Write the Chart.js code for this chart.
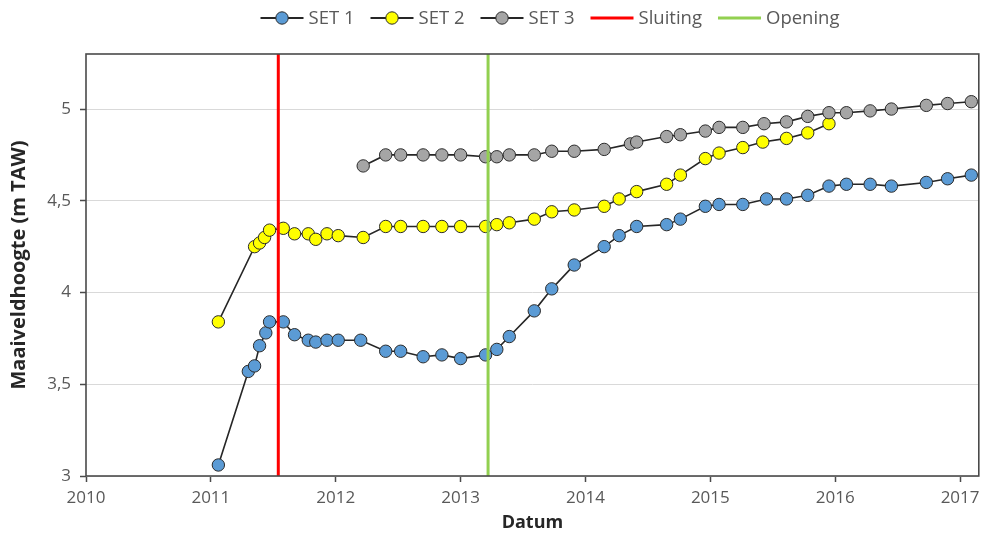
<!DOCTYPE html>
<html>
<head>
<meta charset="utf-8">
<title>Maaiveldhoogte</title>
<script src="https://cdn.jsdelivr.net/npm/chart.js@4.4.1/dist/chart.umd.min.js"></script>
<style>
  html, body { margin: 0; padding: 0; background: #ffffff; }
  #wrap { width: 986px; height: 535px; position: relative; }
</style>
</head>
<body>
<div id="wrap"><canvas id="chart" width="986" height="535"></canvas></div>
<script>
// Measurement dates (decimal years) and ground level heights (m TAW)
const set1Dates = [2011.06, 2011.30, 2011.35, 2011.39, 2011.44, 2011.47, 2011.58, 2011.67, 2011.78, 2011.84,
  2011.93, 2012.02, 2012.20, 2012.40, 2012.52, 2012.70, 2012.85, 2013.00, 2013.20, 2013.29,
  2013.39, 2013.59, 2013.73, 2013.91, 2014.15, 2014.27, 2014.41, 2014.65, 2014.76, 2014.96,
  2015.07, 2015.26, 2015.45, 2015.61, 2015.78, 2015.95, 2016.09, 2016.28, 2016.45, 2016.73,
  2016.90, 2017.09];
const set1Values = [3.06, 3.57, 3.60, 3.71, 3.78, 3.84, 3.84, 3.77, 3.74, 3.73,
  3.74, 3.74, 3.74, 3.68, 3.68, 3.65, 3.66, 3.64, 3.66, 3.69,
  3.76, 3.90, 4.02, 4.15, 4.25, 4.31, 4.36, 4.37, 4.40, 4.47,
  4.48, 4.48, 4.51, 4.51, 4.53, 4.58, 4.59, 4.59, 4.58, 4.60,
  4.62, 4.64];

const set2Dates = [2011.06, 2011.35, 2011.39, 2011.43, 2011.47, 2011.58, 2011.67, 2011.78, 2011.84, 2011.93,
  2012.02, 2012.22, 2012.40, 2012.52, 2012.70, 2012.85, 2013.00, 2013.20, 2013.29, 2013.39,
  2013.59, 2013.73, 2013.91, 2014.15, 2014.27, 2014.41, 2014.65, 2014.76, 2014.96, 2015.07,
  2015.26, 2015.42, 2015.61, 2015.78, 2015.95];
const set2Values = [3.84, 4.25, 4.27, 4.30, 4.34, 4.35, 4.32, 4.32, 4.29, 4.32,
  4.31, 4.30, 4.36, 4.36, 4.36, 4.36, 4.36, 4.36, 4.37, 4.38,
  4.40, 4.44, 4.45, 4.47, 4.51, 4.55, 4.59, 4.64, 4.73, 4.76,
  4.79, 4.82, 4.84, 4.87, 4.92];

const set3Dates = [2012.22, 2012.40, 2012.52, 2012.70, 2012.85, 2013.00, 2013.20, 2013.29, 2013.39, 2013.59,
  2013.73, 2013.91, 2014.15, 2014.36, 2014.41, 2014.65, 2014.76, 2014.96, 2015.07, 2015.26,
  2015.43, 2015.61, 2015.78, 2015.95, 2016.09, 2016.28, 2016.45, 2016.73, 2016.90, 2017.09];
const set3Values = [4.69, 4.75, 4.75, 4.75, 4.75, 4.75, 4.74, 4.74, 4.75, 4.75,
  4.77, 4.77, 4.78, 4.81, 4.82, 4.85, 4.86, 4.88, 4.90, 4.90,
  4.92, 4.93, 4.96, 4.98, 4.98, 4.99, 5.00, 5.02, 5.03, 5.04];

// Closing and re-opening moments (decimal years)
const sluitingDate = 2011.54;
const openingDate = 2013.22;

// Axis ranges and tick labels
const xMin = 2010, xMax = 2017.15;
const yMin = 3, yMax = 5.3;
const xTickLabels = ['2010', '2011', '2012', '2013', '2014', '2015', '2016', '2017'];
const yTickLabels = ['3', '3,5', '4', '4,5', '5'];

const seriesNames = ['SET 1', 'SET 2', 'SET 3', 'Sluiting', 'Opening'];

const FONT = "'Open Sans', 'Liberation Sans', sans-serif";
const TEXT_GREY = '#595959';
const MARKER_R = 6.2;

const toPoints = (xs, ys) => xs.map((x, i) => ({ x: x, y: ys[i] }));
const verticalAt = (x) => [{ x: x, y: yMin }, { x: x, y: yMax }];

function markerSeries(label, xs, ys, fill, order) {
  return {
    label: label,
    data: toPoints(xs, ys),
    borderColor: '#262626',
    borderWidth: 1.6,
    pointRadius: MARKER_R,
    pointHoverRadius: MARKER_R,
    pointBackgroundColor: fill,
    pointBorderColor: '#2b2b2b',
    pointBorderWidth: 1,
    showLine: true,
    tension: 0,
    order: order,
    legendKind: 'marker'
  };
}

function verticalSeries(label, x, color) {
  return {
    label: label,
    data: verticalAt(x),
    borderColor: color,
    borderWidth: 3,
    pointRadius: 0,
    pointHoverRadius: 0,
    showLine: true,
    order: 0,
    legendKind: 'line'
  };
}

const datasets = [
  markerSeries(seriesNames[0], set1Dates, set1Values, '#5B9BD5', 3),
  markerSeries(seriesNames[1], set2Dates, set2Values, '#FFFF00', 2),
  markerSeries(seriesNames[2], set3Dates, set3Values, '#A5A5A5', 1),
  verticalSeries(seriesNames[3], sluitingDate, '#FF0000'),
  verticalSeries(seriesNames[4], openingDate, '#92D050')
];

// Legend row across the top, line + marker swatches like a spreadsheet chart
const topLegend = {
  id: 'topLegend',
  afterDraw(chart) {
    const ctx = chart.ctx;
    const lineLen = 43, gapText = 5, gapItem = 16, cy = 18;
    ctx.save();
    ctx.font = '18.5px ' + FONT;
    ctx.textBaseline = 'middle';
    const items = chart.data.datasets.map(ds => ({ ds: ds, w: ctx.measureText(ds.label).width }));
    const total = items.reduce((s, it) => s + lineLen + gapText + it.w, 0) + gapItem * (items.length - 1);
    let x = 550 - total / 2;
    items.forEach(it => {
      const ds = it.ds;
      ctx.beginPath();
      ctx.moveTo(x, cy);
      ctx.lineTo(x + lineLen, cy);
      ctx.strokeStyle = ds.borderColor;
      ctx.lineWidth = ds.legendKind === 'line' ? 3 : 2;
      ctx.stroke();
      if (ds.legendKind === 'marker') {
        ctx.beginPath();
        ctx.arc(x + lineLen / 2, cy, MARKER_R, 0, Math.PI * 2);
        ctx.fillStyle = ds.pointBackgroundColor;
        ctx.fill();
        ctx.lineWidth = 1;
        ctx.strokeStyle = ds.pointBorderColor;
        ctx.stroke();
      }
      ctx.fillStyle = TEXT_GREY;
      ctx.textAlign = 'left';
      ctx.fillText(ds.label, x + lineLen + gapText, cy + 1);
      x += lineLen + gapText + it.w + gapItem;
    });
    ctx.restore();
  }
};

// Dark frame around the plotting area
const plotFrame = {
  id: 'plotFrame',
  afterDatasetsDraw(chart) {
    const a = chart.chartArea;
    const ctx = chart.ctx;
    ctx.save();
    ctx.strokeStyle = '#4a4a4a';
    ctx.lineWidth = 1.6;
    ctx.strokeRect(a.left, a.top, a.right - a.left, a.bottom - a.top);
    ctx.restore();
  }
};

const keepListed = (labels, fmt) => (scale) => {
  scale.ticks = scale.ticks.filter(t => labels.includes(fmt(t.value)));
};
const fmtX = v => String(Math.round(v * 1000) / 1000);
const fmtY = v => String(Math.round(v * 1000) / 1000).replace('.', ',');

new Chart(document.getElementById('chart'), {
  type: 'scatter',
  data: { datasets: datasets },
  plugins: [topLegend, plotFrame],
  options: {
    responsive: false,
    animation: false,
    events: [],
    layout: { padding: { top: 54, right: 3, left: 0, bottom: 0 } },
    plugins: {
      legend: { display: false },
      tooltip: { enabled: false }
    },
    scales: {
      x: {
        type: 'linear',
        min: xMin,
        max: xMax,
        afterBuildTicks: keepListed(xTickLabels, fmtX),
        afterFit: (scale) => { scale.height = 59; },
        ticks: {
          stepSize: 1,
          includeBounds: false,
          autoSkip: false,
          maxRotation: 0,
          padding: 6,
          color: TEXT_GREY,
          font: { family: FONT, size: 17 },
          callback: (v) => fmtX(v)
        },
        grid: {
          drawOnChartArea: false,
          drawTicks: true,
          tickLength: 6,
          tickColor: '#4a4a4a',
          tickWidth: 1.5
        },
        border: { display: false },
        title: {
          display: true,
          text: 'Datum',
          color: '#262626',
          font: { family: FONT, size: 18, weight: 'bold' },
          padding: { top: 0, bottom: 1 }
        }
      },
      y: {
        type: 'linear',
        min: yMin,
        max: yMax,
        afterBuildTicks: keepListed(yTickLabels, fmtY),
        afterFit: (scale) => { scale.width = 86; },
        ticks: {
          stepSize: 0.5,
          includeBounds: false,
          padding: 9,
          color: TEXT_GREY,
          font: { family: FONT, size: 17 },
          callback: (v) => fmtY(v)
        },
        grid: {
          color: '#D9D9D9',
          lineWidth: 1,
          drawTicks: true,
          tickLength: 6,
          tickColor: '#4a4a4a',
          tickWidth: 1.5
        },
        border: { display: false },
        title: {
          display: true,
          text: 'Maaiveldhoogte (m TAW)',
          color: '#262626',
          font: { family: FONT, size: 20, weight: 'bold' },
          padding: { top: 7, bottom: 0 }
        }
      }
    }
  }
});
</script>
</body>
</html>
